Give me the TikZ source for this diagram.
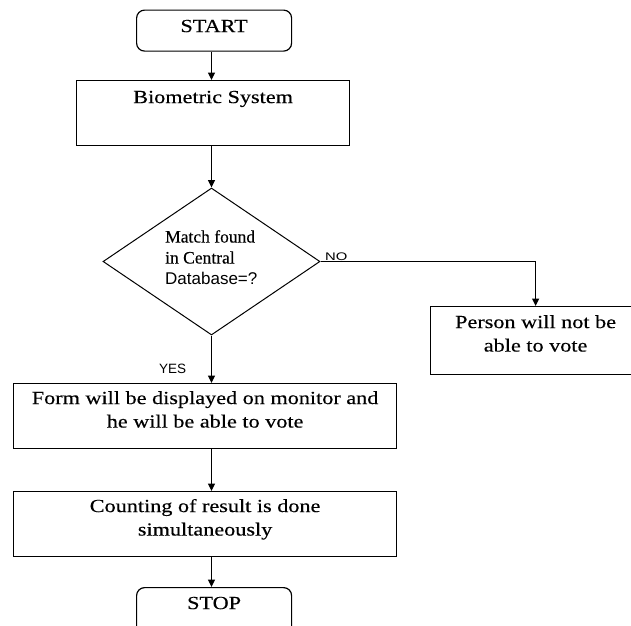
\documentclass[tikz,border=0pt]{standalone}
\usepackage{fontspec}
\setmainfont{Liberation Serif}[FakeStretch=1.2,FakeBold=0.3]
\newfontfamily\plainserif{Liberation Serif}[FakeBold=0.3]
\newfontfamily\lsans{Liberation Sans}
\newfontfamily\lsanswide{Liberation Sans}[FakeStretch=1.35]
\usetikzlibrary{shapes.geometric,arrows.meta}
\newcommand\boxtxt[4]{\parbox[c][#2][t]{#1}{\centering\fontsize{18.5}{23.5}\selectfont\vspace*{#3}\strut #4\par}}
\tikzset{
  box/.style={draw, inner sep=0pt, line width=1.2pt, anchor=north west},
  term/.style={box, rounded corners=8pt},
  arr/.style={draw, line width=1.2pt, -{Triangle[length=7.5pt,width=7pt]}},
}
\begin{document}
\begin{tikzpicture}[x=1pt,y=-1pt]
\clip (0,0) rectangle (631,625);
\node[term] (start) at (136,9.5) {\boxtxt{155pt}{41pt}{5.5pt}{START}};
\node[box] (bio) at (76,80) {\boxtxt{273pt}{65pt}{6pt}{Biometric System}};
\node[draw, diamond, line width=1pt, inner sep=0pt, aspect=1.476, minimum width=217pt, minimum height=147pt] (dec) at (211.5,261.5) {};
\node[anchor=north west, inner sep=0pt, align=left, font=\plainserif\fontsize{17.5}{21}\selectfont] (dtext) at (165,230)
  {Match found\\in Central\\{\lsans\fontsize{17}{21}\selectfont Database=?}};
\node[box] (person) at (430,306) {\boxtxt{210pt}{68pt}{5pt}{Person will not be\\able to vote}};
\node[box] (form) at (13,383) {\boxtxt{383pt}{65pt}{4pt}{Form will be displayed on monitor and\\he will be able to vote}};
\node[box] (count) at (13,491) {\boxtxt{383pt}{65pt}{4pt}{Counting of result is done\\simultaneously}};
\node[term] (stop) at (136,587) {\boxtxt{155pt}{50pt}{5pt}{STOP}};
\node[anchor=base west, inner sep=0pt, font=\lsanswide\fontsize{11}{13}\selectfont] (nolab) at (325,260) {NO};
\node[anchor=base west, inner sep=0pt, font=\lsans\fontsize{13.5}{15}\selectfont] (yeslab) at (159,373) {YES};
\draw[arr] (start.south -| dec.center) -- (bio.north -| dec.center);
\draw[arr] (bio.south -| dec.center) -- (dec.north);
\draw[arr] (dec.south) -- (form.north -| dec.center);
\draw[arr] (form.south -| dec.center) -- (count.north -| dec.center);
\draw[arr] (count.south -| dec.center) -- (stop.north -| dec.center);
\draw[arr] (dec.east) -| (person.north);
\end{tikzpicture}
\end{document}
